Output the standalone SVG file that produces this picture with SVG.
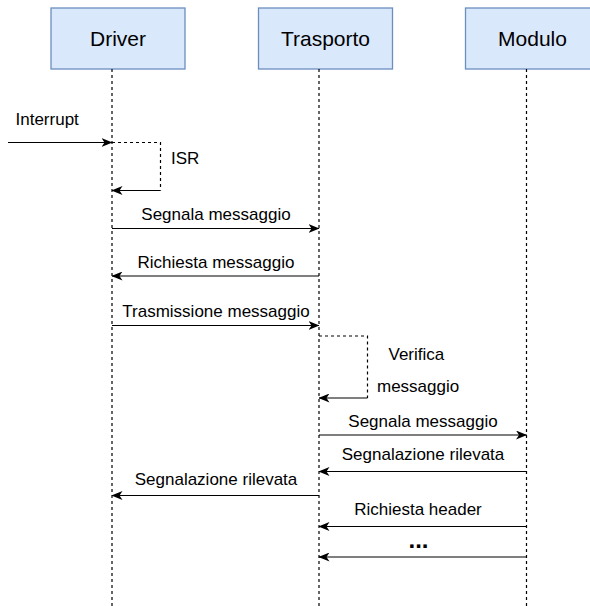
<svg xmlns="http://www.w3.org/2000/svg" width="590" height="606" viewBox="0 0 590 606">
  <style>
    .box { fill: #dae8fc; stroke: #6c8ebf; stroke-width: 1.3; }
    .title { font-family: "Liberation Sans", Arial, sans-serif; font-size: 21px; fill: #000; text-anchor: middle; }
    .life { stroke: #000; stroke-width: 1.2; stroke-dasharray: 3 3; fill: none; }
    .msg { stroke: #000; stroke-width: 1.2; fill: none; marker-end: url(#arrow); }
    .loop { stroke: #000; stroke-width: 1.2; stroke-dasharray: 3 3; fill: none; }
    .lbl { font-family: "Liberation Sans", Arial, sans-serif; font-size: 17px; fill: #000; }
    .mid { text-anchor: middle; }
  </style>
  <defs>
    <marker id="arrow" viewBox="0 0 11 9" refX="10.5" refY="4.5" markerWidth="11" markerHeight="9" markerUnits="userSpaceOnUse" orient="auto">
      <path d="M0,0 L11,4.5 L0,9 L3,4.5 z" fill="#000"/>
    </marker>
  </defs>
  <rect width="590" height="606" fill="#fff"/>

  <!-- participants -->
  <g id="driver">
    <rect class="box" x="51" y="8" width="134" height="61"/>
    <text class="title" x="118" y="46">Driver</text>
    <line class="life" x1="112" y1="69" x2="112" y2="606"/>
  </g>
  <g id="trasporto">
    <rect class="box" x="258.5" y="8" width="134" height="61"/>
    <text class="title" x="325.5" y="46">Trasporto</text>
    <line class="life" x1="319" y1="69" x2="319" y2="606"/>
  </g>
  <g id="modulo">
    <rect class="box" x="465.5" y="8" width="134" height="61"/>
    <text class="title" x="532.5" y="46">Modulo</text>
    <line class="life" x1="526.5" y1="69" x2="526.5" y2="606"/>
  </g>

  <!-- messages -->
  <g id="connectors">
    <line class="msg" x1="8" y1="142.5" x2="112" y2="142.5"/>
    <polyline class="loop" points="112,142.5 160.5,142.5 160.5,190.5"/>
    <line class="msg" x1="160.5" y1="190.5" x2="112" y2="190.5"/>

    <line class="msg" x1="112" y1="228.5" x2="319" y2="228.5"/>
    <line class="msg" x1="319" y1="276" x2="112" y2="276"/>
    <line class="msg" x1="112" y1="325.5" x2="319" y2="325.5"/>

    <polyline class="loop" points="319,336 367.5,336 367.5,398"/>
    <line class="msg" x1="367.5" y1="398" x2="319" y2="398"/>

    <line class="msg" x1="319" y1="435" x2="526.5" y2="435"/>
    <line class="msg" x1="526.5" y1="471.5" x2="319" y2="471.5"/>
    <line class="msg" x1="319" y1="495.5" x2="112" y2="495.5"/>
    <line class="msg" x1="526.5" y1="526.5" x2="319" y2="526.5"/>
    <line class="msg" x1="526.5" y1="557" x2="319" y2="557"/>
  </g>

  <!-- message labels -->
  <g id="labels">
    <text class="lbl" x="15.5" y="124.5">Interrupt</text>
    <text class="lbl" x="171" y="164">ISR</text>
    <text class="lbl mid" x="216" y="220">Segnala messaggio</text>
    <text class="lbl mid" x="216" y="268">Richiesta messaggio</text>
    <text class="lbl mid" x="216" y="317">Trasmissione messaggio</text>
    <text class="lbl" x="388.5" y="359.5">Verifica</text>
    <text class="lbl" x="377" y="392">messaggio</text>
    <text class="lbl mid" x="423" y="426.5">Segnala messaggio</text>
    <text class="lbl mid" x="423" y="460">Segnalazione rilevata</text>
    <text class="lbl mid" x="216" y="485">Segnalazione rilevata</text>
    <text class="lbl mid" x="418" y="515">Richiesta header</text>
    <text class="lbl mid" x="418.5" y="548" style="font-weight:bold;font-size:24px">...</text>
  </g>
</svg>
